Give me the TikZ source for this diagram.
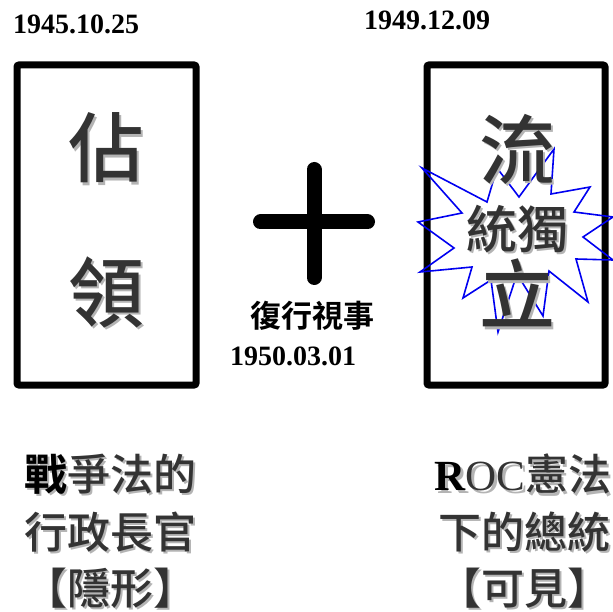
\documentclass[tikz,border=0pt]{standalone}
\usepackage{fontspec}
\setmainfont{Liberation Serif}
\newfontfamily\cjk{Noto Sans CJK TC Medium}[BoldFont={Noto Sans CJK TC Bold}]
\definecolor{txtgray}{HTML}{333333}
\definecolor{shgray}{HTML}{B4B4B4}
\definecolor{starblue}{HTML}{0000F0}
\newcommand{\blkcol}{black}
\newcommand{\blk}[1]{\textcolor{\blkcol}{\bfseries #1}}
\tikzset{
  frame/.style={line width=7pt, draw=black, rounded corners=2pt},
  shadowtxt/.style={inner sep=0pt, text=shgray, execute at begin node={\renewcommand{\blkcol}{shgray}}},
  maintxt/.style={inner sep=0pt, text=txtgray, execute at begin node={\renewcommand{\blkcol}{black}}},
  datetxt/.style={inner sep=0pt, font=\fontsize{28}{28}\selectfont\bfseries},
  plusbar/.style={line width=15pt, line cap=round, draw=black},
}
\newcommand{\shadowed}[5]{%
  \node[shadowtxt, font=#5] (#1s) at (#2+2.5,#3+2.5) {#4};
  \node[maintxt, font=#5] (#1) at (#2,#3) {#4};}
\begin{document}
\begin{tikzpicture}[x=1pt,y=-1pt]
\useasboundingbox (0,0) rectangle (613,612);
\clip (0,0) rectangle (613,612);
% frames
\draw[frame] (17,65) rectangle (196,385);
\draw[frame] (427,65) rectangle (605,385);
% dates
\node[datetxt] (d1) at (76,24) {1945.10.25};
\node[datetxt] (d2) at (427,20) {1949.12.09};
\node[datetxt] (d3) at (293,356) {1950.03.01};
% plus
\coordinate (pt) at (314,169.5);
\coordinate (pb) at (314,277.5);
\coordinate (pl) at (260.5,222);
\coordinate (pr) at (367.5,222);
\draw[plusbar] (pt) -- (pb);
\draw[plusbar] (pl) -- (pr);
\node[inner sep=0pt, font=\cjk\bfseries\fontsize{31}{31}\selectfont] (fx) at (312,316) {復行視事};
% star
\draw[starblue, line width=1.6pt, line join=miter]
 (422,168) -- (487,202) -- (497,168) -- (519,197) -- (554,149) -- (551,194)
 -- (590,187) -- (574,212) -- (613,217) -- (583,237) -- (613,260) -- (576,259)
 -- (588,302) -- (549,271) -- (543,316) -- (517,274) -- (498,332) -- (491,280)
 -- (463,298) -- (472,267) -- (420,272) -- (454,248) -- (418,222) -- (462,213) -- cycle;
% big characters
\shadowed{c1}{106}{148}{佔}{\cjk\fontsize{76}{76}\selectfont}
\shadowed{c2}{106}{292}{領}{\cjk\fontsize{76}{76}\selectfont}
\shadowed{c3}{517}{149}{流}{\cjk\fontsize{76}{76}\selectfont}
\shadowed{c4}{517}{293}{立}{\cjk\fontsize{76}{76}\selectfont}
\shadowed{c5}{517}{229}{統獨}{\cjk\fontsize{51}{51}\selectfont}
% bottom texts
\shadowed{l1}{110}{474}{\blk{戰}爭法的}{\cjk\fontsize{43}{43}\selectfont}
\shadowed{l2}{110}{532}{行政長官}{\cjk\fontsize{43}{43}\selectfont}
\shadowed{l3}{110}{588}{【隱形】}{\cjk\fontsize{43}{43}\selectfont}
\shadowed{r1}{523}{474}{{\rmfamily\blk{R}OC}憲法}{\cjk\fontsize{43}{43}\selectfont}
\shadowed{r2}{524}{532}{下的總統}{\cjk\fontsize{43}{43}\selectfont}
\shadowed{r3}{524}{588}{【可見】}{\cjk\fontsize{43}{43}\selectfont}
\end{tikzpicture}
\end{document}
